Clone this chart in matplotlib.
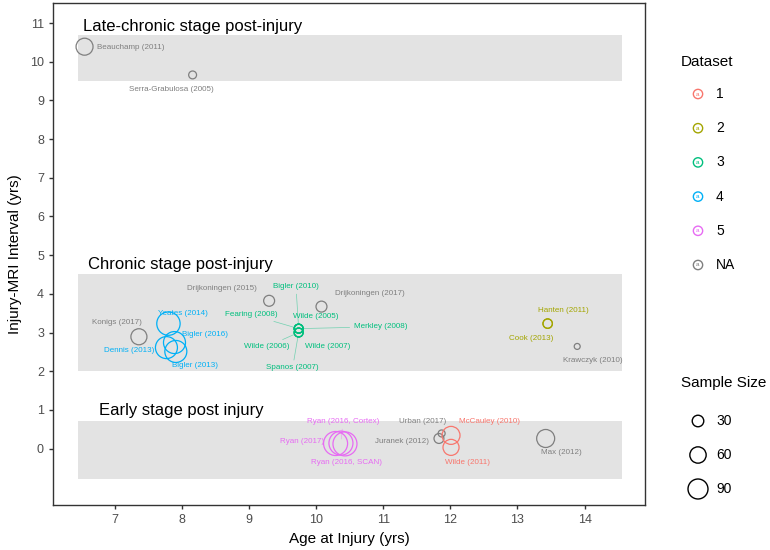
import matplotlib
matplotlib.use("Agg")
import matplotlib.pyplot as plt
from matplotlib.patches import Rectangle

plt.rcParams['font.family'] = ['Liberation Sans', 'DejaVu Sans']

# study data
studies = ["Beauchamp (2011)", "Serra-Grabulosa (2005)",
           "Drijkoningen (2015)", "Drijkoningen (2017)", "Konigs (2017)",
           "Yeates (2014)", "Bigler (2016)", "Dennis (2013)", "Bigler (2013)",
           "Bigler (2010)", "Fearing (2008)", "Wilde (2005)", "Merkley (2008)",
           "Wilde (2006)", "Wilde (2007)", "Spanos (2007)",
           "Hanten (2011)", "Cook (2013)", "Krawczyk (2010)",
           "Ryan (2017)", "Ryan (2016, Cortex)", "Ryan (2016, SCAN)",
           "Urban (2017)", "Juranek (2012)", "McCauley (2010)", "Wilde (2011)",
           "Max (2012)"]
age = [6.55, 8.16,
       9.30, 10.08, 7.36,
       7.80, 7.89, 7.77, 7.91,
       9.74, 9.74, 9.74, 9.74,
       9.74, 9.74, 9.74,
       13.45, 13.45, 13.89,
       10.29, 10.37, 10.43,
       11.87, 11.83, 12.01, 12.01,
       13.42]
interval = [10.39, 9.66,
            3.82, 3.67, 2.89,
            3.23, 2.74, 2.61, 2.51,
            3.10, 3.10, 3.10, 3.10,
            3.00, 3.00, 3.00,
            3.23, 3.23, 2.64,
            0.13, 0.14, 0.12,
            0.39, 0.26, 0.34, 0.03,
            0.26]
dataset = ["NA", "NA",
           "NA", "NA", "NA",
           "4", "4", "4", "4",
           "3", "3", "3", "3",
           "3", "3", "3",
           "2", "2", "NA",
           "5", "5", "5",
           "NA", "NA", "1", "1",
           "NA"]
sample_size = [65, 14,
               27, 27, 58,
               123, 109, 109, 109,
               18, 18, 18, 18,
               18, 18, 18,
               20, 20, 8,
               130, 130, 130,
               11, 22, 73, 58,
               73]

dataset_levels = ["1", "2", "3", "4", "5", "NA"]
size_breaks = [30, 60, 90]

stages = ["Late-chronic stage post-injury", "Chronic stage post-injury", "Early stage post injury"]
stage_low = [9.5, 2.0, -0.8]
stage_high = [10.7, 4.5, 0.7]

# layout of the repelled labels (label centre in data units)
label_pos = {
    "Beauchamp (2011)": (7.24, 10.36), "Serra-Grabulosa (2005)": (7.84, 9.29),
    "Drijkoningen (2015)": (8.59, 4.13), "Drijkoningen (2017)": (10.80, 4.00),
    "Konigs (2017)": (7.03, 3.26), "Yeates (2014)": (8.01, 3.49),
    "Bigler (2016)": (8.34, 2.95), "Dennis (2013)": (7.22, 2.53),
    "Bigler (2013)": (8.19, 2.14), "Bigler (2010)": (9.70, 4.19),
    "Fearing (2008)": (9.03, 3.46), "Wilde (2005)": (10.00, 3.41),
    "Merkley (2008)": (10.96, 3.15), "Wilde (2006)": (9.27, 2.64),
    "Wilde (2007)": (10.17, 2.64), "Spanos (2007)": (9.65, 2.09),
    "Hanten (2011)": (13.69, 3.57), "Cook (2013)": (13.20, 2.84),
    "Krawczyk (2010)": (14.12, 2.27), "Ryan (2016, Cortex)": (10.40, 0.70),
    "Ryan (2017)": (9.79, 0.18), "Ryan (2016, SCAN)": (10.46, -0.36),
    "Urban (2017)": (11.58, 0.70), "Juranek (2012)": (11.28, 0.18),
    "McCauley (2010)": (12.59, 0.70), "Wilde (2011)": (12.26, -0.36),
    "Max (2012)": (13.66, -0.10),
}
with_segment = ["Bigler (2010)", "Fearing (2008)", "Merkley (2008)", "Spanos (2007)",
                "Wilde (2006)", "Ryan (2016, Cortex)"]

colors = {"1": "#F8766D", "2": "#A3A500", "3": "#00BF7D", "4": "#00B0F6",
          "5": "#E76BF3", "NA": "#7F7F7F"}
size_scale = 2.3  # marker area per participant

fig = plt.figure(figsize=(7.7, 5.5), dpi=100)
ax = fig.add_axes([53 / 770, 1 - 505 / 550, 592 / 770, 502 / 550])

for name, lo, hi in zip(stages, stage_low, stage_high):
    ax.add_patch(Rectangle((6.45, lo), 8.1, hi - lo, facecolor="#E3E3E3",
                           edgecolor="none", zorder=0))
ax.text(6.52, 10.92, stages[0], fontsize=12, va="center", ha="left")
ax.text(6.60, 4.76, stages[1], fontsize=12, va="center", ha="left")
ax.text(6.76, 0.98, stages[2], fontsize=12, va="center", ha="left")

for s, x, y, d, n in zip(studies, age, interval, dataset, sample_size):
    c = colors[d]
    ax.scatter(x, y, s=n * size_scale, facecolors="none", edgecolors=c,
               linewidths=0.9, zorder=3)
    lx, ly = label_pos[s]
    if s in with_segment:
        ax.annotate(s, xy=(x, y), xytext=(lx, ly), fontsize=5.8, color=c,
                    ha="center", va="center", zorder=4,
                    arrowprops=dict(arrowstyle="-", color=c, lw=0.5, alpha=0.5,
                                    shrinkA=1, shrinkB=3))
    else:
        ax.text(lx, ly, s, fontsize=5.8, color=c, ha="center", va="center", zorder=4)

ax.set_xlim(6.08, 14.9)
ax.set_ylim(-1.46, 11.52)
ax.set_xticks(range(7, 15))
ax.set_yticks(range(0, 12))
ax.tick_params(labelsize=9, labelcolor="#4D4D4D", color="#333333", length=3, width=1)
ax.set_xlabel("Age at Injury (yrs)", fontsize=11, labelpad=4)
ax.set_ylabel("Injury-MRI Interval (yrs)", fontsize=11, labelpad=6)
for sp in ax.spines.values():
    sp.set_color("#333333")
    sp.set_linewidth(1)

# legends drawn in a pixel-space strip on the right
lg = fig.add_axes([650 / 770, 0, 120 / 770, 1])
lg.set_xlim(650, 770)
lg.set_ylim(550, 0)
lg.axis("off")
lg.text(681, 62, "Dataset", fontsize=11, va="center", ha="left")
for i, lev in enumerate(dataset_levels):
    yy = 94 + i * 34.2
    lg.scatter(698, yy, s=45, facecolors="none", edgecolors=colors[lev], linewidths=1)
    lg.text(698, yy, "a", fontsize=4.5, color=colors[lev], ha="center", va="center")
    lg.text(716, yy, lev, fontsize=10, va="center", ha="left")
lg.text(681, 383, "Sample Size", fontsize=11, va="center", ha="left")
for i, b in enumerate(size_breaks):
    yy = 421 + i * 34
    lg.scatter(698, yy, s=b * size_scale, facecolors="none", edgecolors="black", linewidths=1)
    lg.text(716, yy, str(b), fontsize=10, va="center", ha="left")

fig.savefig("out.png", dpi=100)
